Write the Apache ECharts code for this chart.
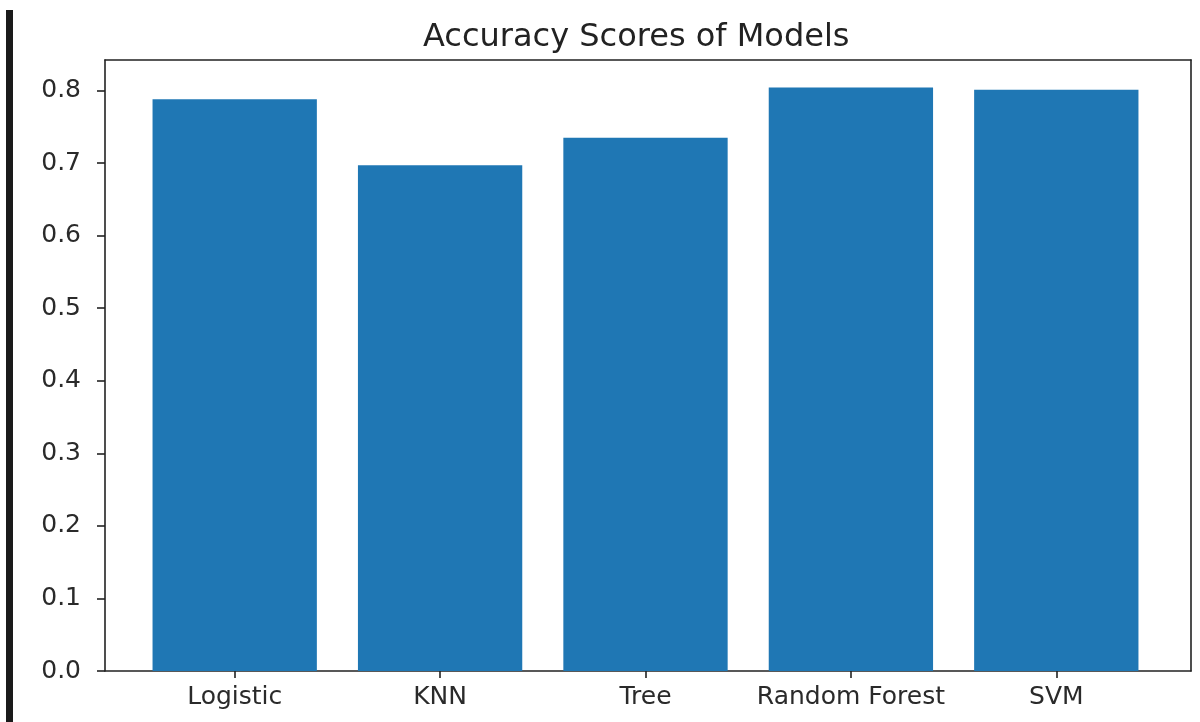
<!DOCTYPE html>
<html>
<head>
<meta charset="utf-8">
<style>
html,body{margin:0;padding:0;background:#fff;}
#chart{width:1200px;height:722px;}
</style>
<script src="https://cdn.jsdelivr.net/npm/echarts@6/dist/echarts.min.js"></script>
</head>
<body>
<div id="chart"></div>
<script>
const categories = ['Logistic', 'KNN', 'Tree', 'Random Forest', 'SVM'];
const accuracy = [0.788, 0.697, 0.735, 0.804, 0.801];
const yTicks = [0.0, 0.1, 0.2, 0.3, 0.4, 0.5, 0.6, 0.7, 0.8];
const yMax = 0.842;

const FONT = 'DejaVu Sans';
const INK = '#222';
const spine = { show: true, onZero: false, lineStyle: { color: INK, width: 1.6 } };

const chart = echarts.init(document.getElementById('chart'), null, { renderer: 'canvas' });
chart.setOption({
  animation: false,
  backgroundColor: '#fff',
  title: {
    text: 'Accuracy Scores of Models',
    left: 418,
    top: 17,
    textStyle: { fontFamily: FONT, fontSize: 32, fontWeight: 'normal', color: '#222' }
  },
  graphic: [{
    type: 'rect',
    shape: { x: 6, y: 10, width: 7, height: 712 },
    style: { fill: '#1a1a1a' }
  }],
  grid: [
    { left: 105, right: 9, top: 60, bottom: 51 },
    { left: 132, right: 41, top: 60, bottom: 51 }
  ],
  xAxis: [
    { type: 'value', gridIndex: 0, min: 0, max: 1, axisLine: spine, axisTick: { show: false }, axisLabel: { show: false }, splitLine: { show: false } },
    { type: 'value', gridIndex: 0, position: 'top', min: 0, max: 1, axisLine: spine, axisTick: { show: false }, axisLabel: { show: false }, splitLine: { show: false } },
    {
      type: 'category', gridIndex: 1, data: categories,
      axisLine: { show: false },
      axisTick: { show: true, alignWithLabel: true, length: 7, lineStyle: { color: INK, width: 1.6 } },
      axisLabel: { show: true, interval: 0, margin: 14, fontFamily: FONT, fontSize: 25, color: '#2a2a2a' },
      splitLine: { show: false }
    }
  ],
  yAxis: [
    {
      type: 'value', gridIndex: 0, min: 0, max: yMax,
      axisLine: spine,
      axisTick: { show: true, length: 8, customValues: yTicks, lineStyle: { color: INK, width: 1.6 } },
      axisLabel: { show: true, margin: 24, customValues: yTicks, formatter: v => v.toFixed(1), fontFamily: FONT, fontSize: 25, color: '#2a2a2a' },
      splitLine: { show: false }
    },
    { type: 'value', gridIndex: 0, position: 'right', min: 0, max: 1, axisLine: spine, axisTick: { show: false }, axisLabel: { show: false }, splitLine: { show: false } },
    { type: 'value', gridIndex: 1, min: 0, max: yMax, show: false }
  ],
  series: [{
    type: 'bar',
    xAxisIndex: 2,
    yAxisIndex: 2,
    data: accuracy,
    barWidth: '80%',
    itemStyle: { color: '#1f77b4' }
  }]
});
</script>
</body>
</html>
